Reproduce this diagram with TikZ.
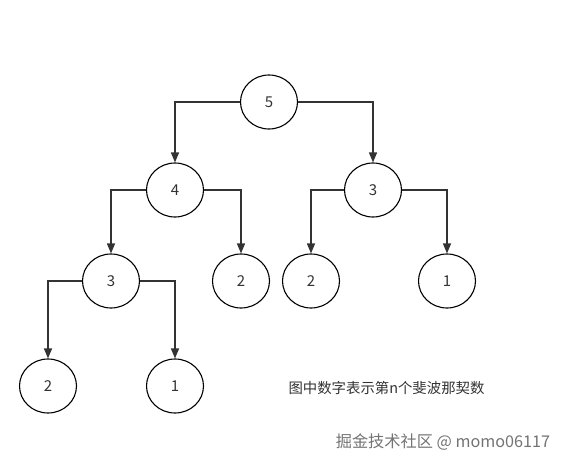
\documentclass[tikz,border=0pt]{standalone}
\usepackage{fontspec}
\setmainfont{Noto Sans CJK SC}
\usetikzlibrary{shapes.geometric,arrows.meta}

\begin{document}
\begin{tikzpicture}[x=1pt,y=1pt]
\tikzstyle{fib}=[draw=black,line width=1.1pt,ellipse,minimum width=57pt,minimum height=54pt,inner sep=0pt,font=\fontsize{15}{17}\selectfont\color{black!80}]
\tikzstyle{call}=[draw=black!80,line width=1.4pt,-{Triangle[length=10pt,width=8pt]}]
\useasboundingbox (0,0) rectangle (567,-465);
\node[fib] (f5) at (269,-102) {5};
\node[fib] (f4) at (175,-190) {4};
\node[fib] (f3r) at (373,-190) {3};
\node[fib] (f3l) at (111,-281) {3};
\node[fib] (f2m) at (241,-281) {2};
\node[fib] (f2r) at (311,-281) {2};
\node[fib] (f1r) at (447,-281) {1};
\node[fib] (f2l) at (48,-386) {2};
\node[fib] (f1l) at (175,-386) {1};
\draw[call] (f5.west) -| (f4.north);
\draw[call] (f5.east) -| (f3r.north);
\draw[call] (f4.west) -| (f3l.north);
\draw[call] (f4.east) -| (f2m.north);
\draw[call] (f3r.west) -| (f2r.north);
\draw[call] (f3r.east) -| (f1r.north);
\draw[call] (f3l.west) -| (f2l.north);
\draw[call] (f3l.east) -| (f1l.north);
\node[font=\fontsize{14.4}{16}\selectfont,text=black!80] (note) at (386.5,-388) {图中数字表示第n个斐波那契数};
\node[font=\fontsize{16.2}{18}\selectfont,text=black!55] (mark) at (443,-442) {掘金技术社区 @ momo06117};
\end{tikzpicture}
\end{document}
